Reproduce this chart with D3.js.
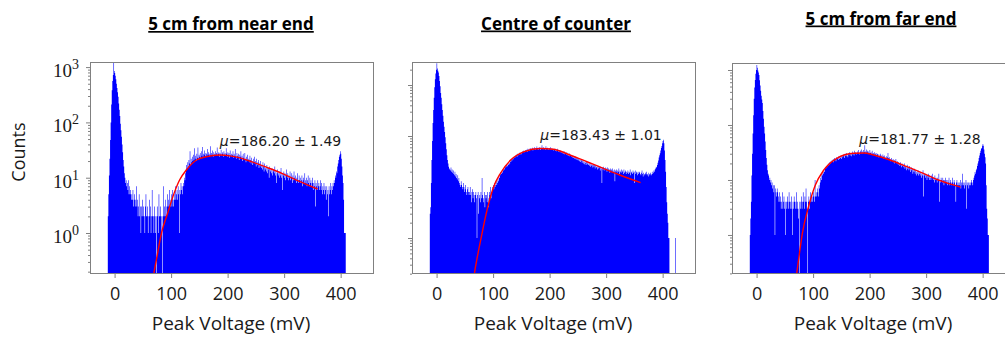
<!DOCTYPE html>
<html>
<head>
<meta charset="utf-8">
<script src="https://cdn.jsdelivr.net/npm/d3@7"></script>
<style>
  body { margin: 0; background: #fff; }
  svg { display: block; }
</style>
</head>
<body>
<div id="chart"></div>
<script>
// histogram bins are 1 mV wide, first bin starts at -12 mV
const binStartMv = -12;

const nearCounts = [
  2, 5, 11, 22, 48, 100, 210, 380, 560, 720,
  1200, 850, 780, 700, 600, 500, 420, 350, 290, 220,
  170, 130, 95, 72, 55, 40, 29, 21, 16, 12,
  10, 8, 9, 7, 8, 6, 9, 5, 7, 5,
  6, 4, 5, 4, 6, 3, 4, 5, 3, 4,
  7, 3, 4, 2, 3, 5, 2, 3, 1, 3,
  2, 4, 2, 3, 2, 1, 3, 5, 2, 2,
  3, 1, 2, 4, 2, 3, 1, 2, 6, 2,
  2, 1, 3, 2, 1, 2, 0, 3, 2, 1,
  5, 2, 2, 3, 2, 1, 0, 2, 7, 2,
  3, 2, 4, 2, 3, 5, 3, 4, 3, 6,
  3, 4, 5, 3, 6, 4, 3, 5, 4, 7,
  4, 5, 6, 4, 7, 5, 1, 6, 5, 8,
  6, 7, 5, 8, 7, 10, 9, 12, 14, 17,
  15, 19, 16, 21, 18, 30, 17, 22, 19, 24,
  20, 26, 21, 34, 22, 25, 20, 27, 23, 35,
  22, 26, 24, 28, 23, 30, 25, 36, 24, 27,
  26, 31, 24, 28, 27, 25, 33, 26, 29, 24,
  27, 37, 25, 28, 26, 31, 24, 29, 27, 25,
  30, 26, 28, 35, 25, 27, 29, 24, 28, 26,
  32, 25, 27, 29, 24, 30, 26, 28, 25, 34,
  27, 24, 29, 26, 28, 23, 31, 25, 27, 24,
  26, 30, 23, 27, 25, 33, 24, 22, 28, 25,
  23, 27, 21, 26, 24, 30, 22, 25, 20, 27,
  23, 21, 28, 22, 19, 24, 21, 26, 20, 22,
  19, 25, 21, 18, 23, 20, 17, 22, 19, 24,
  18, 20, 16, 22, 17, 19, 21, 15, 18, 16,
  20, 15, 17, 14, 19, 16, 13, 18, 14, 15,
  13, 17, 12, 15, 14, 10, 16, 13, 14, 12,
  15, 11, 13, 14, 12, 16, 11, 13, 8, 12,
  14, 11, 12, 10, 13, 11, 15, 10, 12, 6,
  11, 13, 10, 12, 9, 11, 14, 10, 12, 9,
  11, 10, 13, 9, 10, 12, 8, 11, 9, 13,
  10, 9, 11, 8, 10, 12, 9, 8, 11, 9,
  10, 8, 9, 11, 7, 9, 10, 8, 12, 9,
  8, 10, 7, 9, 11, 8, 7, 10, 8, 9,
  7, 8, 10, 6, 8, 7, 9, 3, 8, 7,
  6, 9, 7, 8, 6, 7, 9, 6, 8, 5,
  7, 6, 8, 5, 7, 6, 4, 7, 5, 6,
  2, 7, 5, 6, 8, 5, 7, 6, 8, 7,
  9, 8, 11, 10, 13, 12, 16, 18, 21, 24,
  26, 30, 27, 22, 16, 11, 8, 4, 1, 1,
  1, 0, 0, 0
];

const centreCounts = [
  3, 4, 12, 34, 80, 180, 324, 560, 900, 1300,
  1690, 2000, 2660, 2100, 1900, 1750, 1500, 1200, 950, 700,
  560, 420, 324, 250, 190, 152, 120, 95, 72, 55,
  42, 34, 29, 25, 23, 22, 21, 24, 20, 22,
  19, 21, 18, 17, 20, 16, 18, 15, 14, 17,
  13, 15, 12, 11, 10, 13, 11, 10, 9, 12,
  10, 8, 9, 11, 8, 7, 9, 10, 8, 7,
  8, 10, 7, 5, 8, 9, 6, 8, 7, 5,
  7, 8, 6, 1, 7, 8, 3, 6, 7, 5,
  8, 6, 15, 7, 6, 5, 8, 4, 7, 6,
  7, 5, 8, 4, 6, 8, 7, 10, 6, 8,
  9, 10, 11, 9, 12, 10, 11, 13, 11, 12,
  14, 13, 16, 15, 17, 19, 18, 20, 19, 22,
  21, 23, 22, 25, 24, 27, 25, 26, 29, 27,
  30, 28, 32, 31, 34, 33, 36, 35, 38, 39,
  37, 41, 40, 43, 39, 45, 42, 44, 47, 43,
  46, 48, 44, 50, 47, 49, 52, 48, 51, 53,
  50, 54, 49, 56, 52, 55, 51, 58, 53, 56,
  54, 59, 52, 57, 55, 60, 53, 58, 56, 62,
  55, 58, 54, 61, 57, 53, 59, 56, 66, 57,
  55, 60, 56, 58, 54, 63, 57, 55, 59, 56,
  54, 58, 55, 60, 53, 57, 54, 56, 52, 55,
  53, 57, 51, 54, 50, 56, 52, 49, 53, 50,
  48, 52, 47, 50, 46, 49, 45, 51, 44, 47,
  45, 43, 48, 42, 44, 41, 46, 40, 43, 42,
  39, 42, 38, 41, 37, 40, 36, 39, 35, 38,
  34, 37, 33, 36, 32, 35, 31, 34, 33, 30,
  33, 29, 32, 28, 31, 30, 27, 31, 28, 30,
  27, 29, 26, 30, 25, 28, 26, 27, 24, 28,
  25, 27, 23, 26, 24, 25, 22, 26, 23, 25,
  24, 21, 25, 23, 12, 24, 22, 25, 21, 23,
  24, 22, 23, 20, 24, 21, 23, 22, 19, 23,
  21, 22, 20, 23, 21, 19, 22, 13, 21, 20,
  22, 19, 21, 20, 23, 18, 21, 20, 19, 22,
  20, 21, 18, 22, 19, 20, 21, 18, 20, 19,
  21, 18, 20, 19, 22, 17, 20, 19, 18, 21,
  19, 20, 12, 21, 18, 20, 19, 17, 20, 18,
  19, 20, 18, 17, 19, 21, 18, 16, 19, 18,
  17, 19, 18, 20, 17, 18, 16, 19, 18, 17,
  19, 18, 17, 20, 18, 19, 21, 20, 22, 23,
  25, 24, 27, 30, 33, 38, 42, 46, 52, 58,
  64, 72, 80, 84, 72, 52, 34, 20, 10, 5,
  3, 2, 1, 1, 0, 0, 0, 0, 0, 0,
  0, 0, 0, 0, 1
];

const farCounts = [
  1, 2, 4, 12, 30, 70, 150, 300, 480, 660,
  850, 1000, 1230, 1100, 980, 900, 810, 650, 520, 420,
  340, 290, 250, 180, 130, 93, 70, 50, 35, 25,
  19, 15, 13, 12, 10, 11, 9, 10, 8, 9,
  7, 8, 6, 8, 1, 7, 6, 5, 7, 6,
  5, 4, 6, 4, 5, 3, 4, 6, 3, 4,
  5, 3, 4, 1, 4, 3, 5, 4, 3, 6,
  4, 3, 4, 5, 3, 1, 4, 3, 5, 4,
  3, 4, 6, 3, 4, 3, 2, 0, 4, 3,
  4, 5, 3, 4, 6, 4, 3, 5, 4, 7,
  4, 3, 0, 4, 5, 3, 4, 6, 4, 5,
  4, 5, 6, 5, 4, 10, 5, 6, 5, 7,
  6, 5, 8, 7, 9, 11, 10, 13, 12, 14,
  13, 15, 14, 17, 16, 18, 17, 19, 18, 20,
  19, 21, 20, 22, 21, 23, 22, 24, 21, 25,
  23, 24, 22, 26, 24, 25, 23, 27, 24, 26,
  25, 27, 24, 28, 26, 29, 27, 25, 30, 28,
  27, 31, 28, 26, 30, 29, 32, 28, 31, 27,
  30, 33, 29, 31, 28, 34, 30, 32, 29, 31,
  33, 30, 35, 31, 29, 34, 32, 36, 30, 33,
  31, 35, 32, 43, 33, 30, 36, 32, 34, 31,
  33, 30, 35, 31, 32, 29, 34, 30, 31, 29,
  32, 28, 30, 31, 27, 29, 30, 26, 29, 27,
  28, 30, 26, 28, 25, 29, 27, 24, 28, 26,
  25, 27, 24, 26, 31, 25, 23, 26, 24, 22,
  25, 23, 22, 24, 21, 23, 20, 22, 24, 21,
  20, 22, 19, 21, 20, 18, 21, 19, 17, 20,
  18, 19, 17, 20, 16, 18, 17, 15, 19, 16,
  17, 15, 18, 16, 14, 17, 15, 16, 13, 15,
  14, 16, 13, 15, 12, 14, 13, 15, 12, 14,
  13, 12, 14, 11, 13, 12, 15, 5, 12, 13,
  11, 13, 12, 10, 12, 11, 13, 10, 12, 11,
  10, 12, 11, 13, 10, 11, 9, 12, 10, 11,
  10, 9, 11, 10, 13, 4, 10, 9, 11, 10,
  9, 11, 10, 8, 10, 9, 11, 10, 9, 8,
  10, 9, 11, 8, 9, 10, 8, 9, 11, 9,
  8, 10, 9, 8, 4, 9, 10, 8, 9, 8,
  9, 8, 10, 7, 9, 8, 13, 9, 8, 7,
  9, 8, 10, 3, 9, 8, 9, 7, 8, 9,
  8, 9, 10, 9, 8, 10, 11, 12, 14, 13,
  15, 16, 18, 20, 22, 25, 28, 31, 34, 37,
  38, 42, 45, 42, 36, 30, 26, 20, 8, 3,
  2, 1, 1, 0
];

// fitted curves
const nearFitMv = [66, 70, 74, 83, 94, 103, 115, 127, 145, 162, 186, 207, 225, 242, 266, 296, 325, 359];
const nearFitCounts = [0.12, 0.2, 0.33, 1.0, 2.3, 4.5, 9.1, 13.8, 20.9, 23.9, 25.7, 24.5, 22.4, 19.5, 15.8, 12, 8.8, 6.25];
const centreFitMv = [65, 67, 72, 78, 90, 101, 113, 131, 154, 184, 207, 236, 266, 295, 324, 361];
const centreFitCounts = [0.13, 0.2, 0.42, 0.91, 3.8, 10.1, 18.6, 33.8, 49, 57, 55, 42.4, 31.3, 23.2, 17.2, 12.2];
const farFitMv = [68, 71, 75, 81, 92, 104, 119, 142, 172, 190, 207, 236, 266, 295, 325, 361];
const farFitCounts = [0.13, 0.2, 0.4, 1.07, 3.3, 8.1, 15.2, 24.8, 30.6, 31, 28.5, 23.1, 17.5, 13.2, 9.7, 7.4];

const panelTitles = ["5 cm from near end", "Centre of counter", "5 cm from far end"];
const fitMeans = ["186.20", "183.43", "181.77"];
const fitErrors = ["1.49", "1.01", "1.28"];
const xTicks = [0, 100, 200, 300, 400];
const yTickExponents = [0, 1, 2, 3];

const width = 1005, height = 339;
const plotW = 284;
const xDomain = [-43.5, 459];
const frameColor = "#808080";
const sans = "'Open Sans', sans-serif";

const panels = [
  { counts: nearCounts, fitMv: nearFitMv, fitCounts: nearFitCounts, left: 90, top: 62, bottom: 274,
    yDomain: [0.1815, 1236], titleX: 231, titleY: 30, labelCount: 37, yLabels: true },
  { counts: centreCounts, fitMv: centreFitMv, fitCounts: centreFitCounts, left: 412, top: 62, bottom: 274,
    yDomain: [0.197, 2825], titleX: 556, titleY: 29.5, labelCount: 84, yLabels: false },
  { counts: farCounts, fitMv: farFitMv, fitCounts: farFitCounts, left: 732, top: 63, bottom: 274,
    yDomain: [0.195, 1340], titleX: 881, titleY: 24.5, labelCount: 45.5, yLabels: false }
];

const svg = d3.select("#chart").append("svg")
  .attr("width", width)
  .attr("height", height)
  .style("background", "#fff");

panels.forEach((p, i) => {
  const x = d3.scaleLinear().domain(xDomain).range([p.left, p.left + plotW]);
  const y = d3.scaleLog().domain(p.yDomain).range([p.bottom, p.top]);
  const g = svg.append("g");

  svg.append("clipPath").attr("id", `clip${i}`)
    .append("rect")
    .attr("x", p.left).attr("y", p.top)
    .attr("width", plotW).attr("height", p.bottom - p.top);

  // histogram as one step outline
  const pts = p.counts.flatMap((c, j) => [[binStartMv + j, c], [binStartMv + j + 1, c]]);
  const area = d3.area()
    .x((d) => x(d[0]))
    .y0(p.bottom)
    .y1((d) => (d[1] > 0 ? Math.min(p.bottom, y(d[1])) : p.bottom));

  g.append("path")
    .datum(pts)
    .attr("d", area)
    .attr("fill", "#0000ff")
    .attr("clip-path", `url(#clip${i})`);

  // fit curve
  const fit = p.fitMv.map((v, j) => [v, p.fitCounts[j]]);
  g.append("path")
    .datum(fit)
    .attr("d", d3.line().x((d) => x(d[0])).y((d) => y(d[1])).curve(d3.curveMonotoneX))
    .attr("fill", "none")
    .attr("stroke", "#ff0000")
    .attr("stroke-width", 1.4)
    .attr("clip-path", `url(#clip${i})`);

  // frame
  g.append("rect")
    .attr("x", p.left + 0.5).attr("y", p.top + 0.5)
    .attr("width", plotW - 1).attr("height", p.bottom - p.top - 1)
    .attr("fill", "none")
    .attr("stroke", frameColor)
    .attr("stroke-width", 1);

  // x axis
  const xAxis = g.append("g")
    .attr("transform", `translate(0,${p.bottom})`)
    .call(d3.axisBottom(x).tickValues(xTicks).tickSize(4).tickPadding(9).tickFormat(d3.format("d")));
  xAxis.select(".domain").remove();
  xAxis.selectAll("line").attr("stroke", frameColor);
  xAxis.selectAll("text")
    .attr("fill", "#1a1a1a")
    .style("font-family", sans)
    .style("font-size", "18px");

  // y axis, log ticks
  const [lo, hi] = p.yDomain;
  const majors = [], minors = [];
  for (let e = -1; e <= 4; e++) {
    for (let m = 1; m < 10; m++) {
      const v = m * Math.pow(10, e);
      if (v < lo || v > hi) continue;
      (m === 1 ? majors : minors).push(v);
    }
  }
  const yMajor = g.append("g")
    .attr("transform", `translate(${p.left},0)`)
    .call(d3.axisLeft(y).tickValues(majors).tickSize(4).tickFormat(""));
  const yMinor = g.append("g")
    .attr("transform", `translate(${p.left},0)`)
    .call(d3.axisLeft(y).tickValues(minors).tickSize(2).tickFormat(""));
  [yMajor, yMinor].forEach((a) => {
    a.select(".domain").remove();
    a.selectAll("line").attr("stroke", frameColor);
  });

  if (p.yLabels) {
    yTickExponents.forEach((e) => {
      const t = g.append("text")
        .attr("x", p.left - 11)
        .attr("y", y(Math.pow(10, e)) + 10)
        .attr("text-anchor", "end")
        .attr("fill", "#1a1a1a")
        .style("font-family", "'Liberation Serif', serif")
        .style("font-size", "19px");
      t.append("tspan").text("10");
      t.append("tspan").attr("dy", -8).style("font-size", "14px").text(e);
    });
  }

  // fit annotation
  const note = g.append("text")
    .attr("x", x(+fitMeans[i]))
    .attr("y", y(p.labelCount))
    .attr("fill", "#1a1a1a")
    .style("font-family", "'DejaVu Sans', sans-serif")
    .style("font-size", "14px");
  note.append("tspan").style("font-style", "italic").text("\u03bc");
  note.append("tspan").text(`=${fitMeans[i]} \u00b1 ${fitErrors[i]}`);

  // x label
  g.append("text")
    .attr("x", p.left + plotW / 2 - 1)
    .attr("y", p.bottom + 56)
    .attr("text-anchor", "middle")
    .attr("fill", "#1a1a1a")
    .style("font-family", sans)
    .style("font-size", "19px")
    .text("Peak Voltage (mV)");

  // title
  g.append("text")
    .attr("x", p.titleX)
    .attr("y", p.titleY)
    .attr("text-anchor", "middle")
    .attr("fill", "#000")
    .style("font-family", sans)
    .style("font-weight", "bold")
    .style("font-size", "17px")
    .style("text-decoration", "underline")
    .text(panelTitles[i]);
});

svg.append("text")
  .attr("transform", "translate(25,152) rotate(-90)")
  .attr("text-anchor", "middle")
  .attr("fill", "#1a1a1a")
  .style("font-family", sans)
  .style("font-size", "18px")
  .text("Counts");
</script>
</body>
</html>
